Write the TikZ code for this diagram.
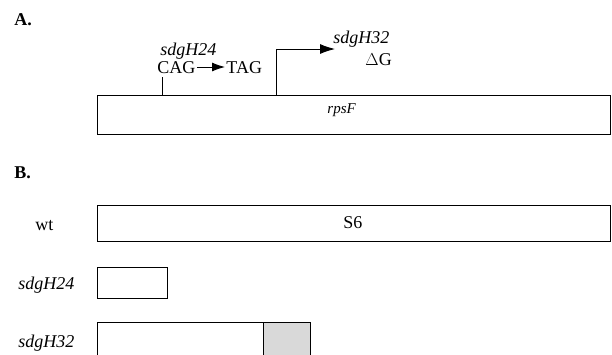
\documentclass[tikz,border=0pt]{standalone}
\usepackage{fontspec}
\setmainfont{Liberation Serif}
\usetikzlibrary{arrows.meta}
\begin{document}
\begin{tikzpicture}[x=1pt, y=-1pt, line width=0.9pt,
  txt/.style={font=\fontsize{18}{20}\selectfont, inner sep=0pt, anchor=base west},
  gene/.style={txt, font=\fontsize{18}{20}\selectfont\itshape},
  panel/.style={txt, font=\fontsize{18}{20}\selectfont\bfseries}]
\useasboundingbox (0,0) rectangle (612,354);
\clip (0,0) rectangle (612,354);

% Panel A: rpsF gene
\node[panel] (A) at (14,25) {A.};
\draw (97,95) rectangle (610,134);
\node[gene, font=\fontsize{15}{18}\selectfont\itshape] (rpsF) at (327,113) {rpsF};

% sdgH24 point mutation
\coordinate (h24) at (162,95);
\node[gene] (h24name) at (160,55) {sdgH24};
\node[txt] (cag) at (157,73) {CAG};
\node[txt] (tag) at (226,73) {TAG};
\draw (h24) -- ++(0,-18);
\draw[-{Latex[length=13pt,width=9pt]}] ([xshift=1pt]cag.east |- 0,67) -- ([xshift=-1pt]tag.west |- 0,67);

% sdgH32 frameshift
\coordinate (h32) at (276,95);
\coordinate (h32tip) at (335,49);
\node[gene] (h32name) at (333,43) {sdgH32};
\node[txt] (delG) at (365,65) {$\Delta$G};
\draw[-{Latex[length=15pt,width=10pt]}] (h32) |- (h32tip);

% Panel B: S6 products
\node[panel] (B) at (14,178) {B.};

%wt
\node[txt] (wt) at (35,230) {wt};
\draw (97,205) rectangle (610,241);
\node[txt] (S6) at (343,228) {S6};

%sdgH24
\node[gene] (b24) at (18,289) {sdgH24};
\draw (97,267) rectangle (167,298);

%sdgH32
\node[gene] (b32) at (18,347) {sdgH32};
\fill[gray!30] (263,322) rectangle (310,360);
\draw (97,322) rectangle (310,360);
\draw (263,322) -- (263,360);

\end{tikzpicture}
\end{document}
